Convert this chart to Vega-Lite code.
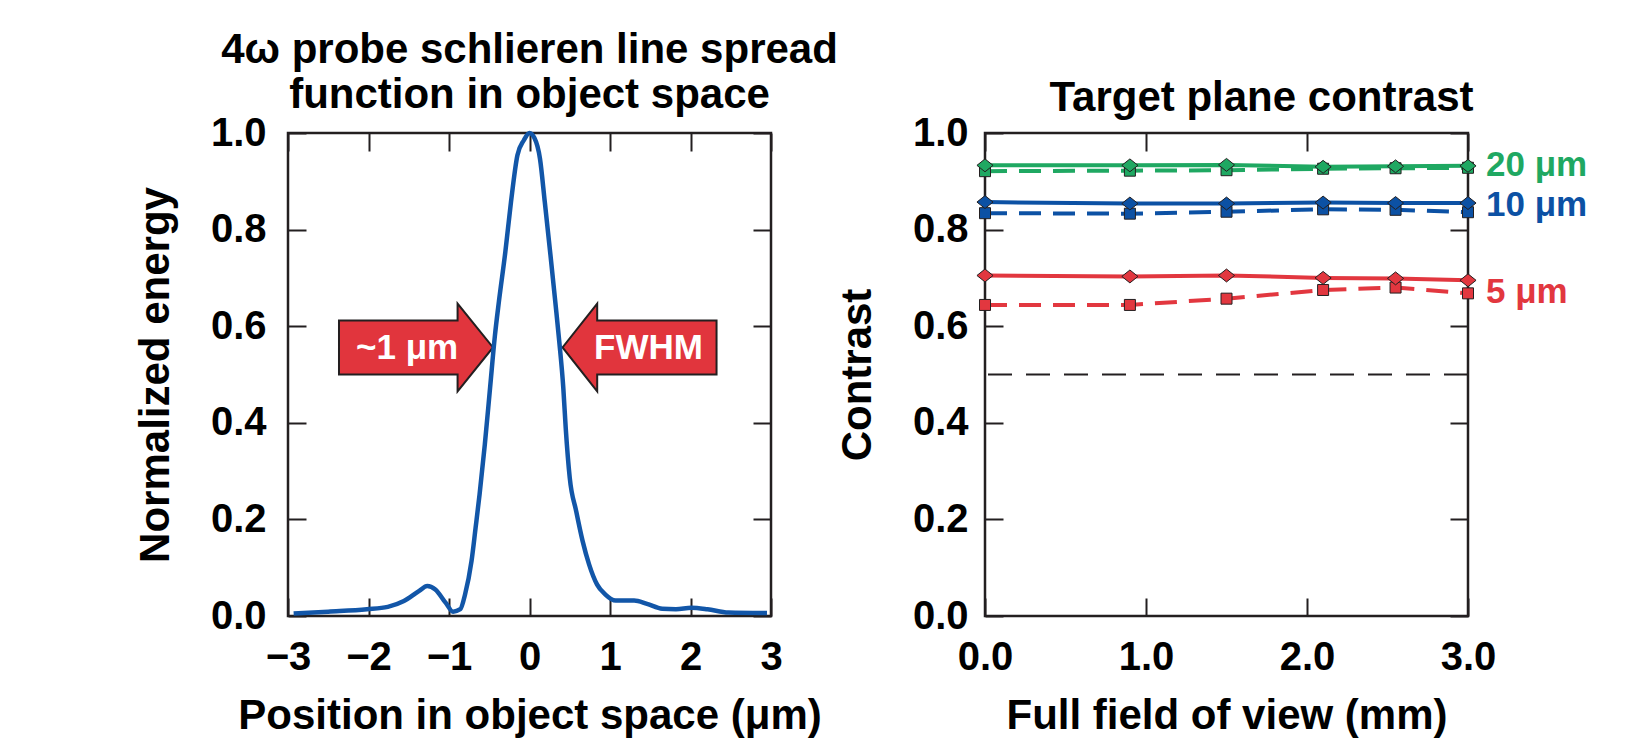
{
  "$schema": "https://vega.github.io/schema/vega-lite/v6.json",
  "background": "white",
  "padding": {"left": 133, "top": 27, "right": 0, "bottom": 0},
  "spacing": -5,
  "datasets": {
    "psf": [
      {"pos": -2.93, "energy": 0.005}, {"pos": -2.5, "energy": 0.009}, {"pos": -2.02, "energy": 0.014},
      {"pos": -1.76, "energy": 0.019}, {"pos": -1.56, "energy": 0.031}, {"pos": -1.37, "energy": 0.052},
      {"pos": -1.27, "energy": 0.062}, {"pos": -1.17, "energy": 0.055}, {"pos": -1.04, "energy": 0.027},
      {"pos": -0.95, "energy": 0.009}, {"pos": -0.86, "energy": 0.014}, {"pos": -0.8, "energy": 0.045},
      {"pos": -0.72, "energy": 0.114}, {"pos": -0.67, "energy": 0.182}, {"pos": -0.62, "energy": 0.252},
      {"pos": -0.555, "energy": 0.355}, {"pos": -0.49, "energy": 0.472}, {"pos": -0.43, "energy": 0.58},
      {"pos": -0.38, "energy": 0.651}, {"pos": -0.3, "energy": 0.754}, {"pos": -0.23, "energy": 0.857},
      {"pos": -0.15, "energy": 0.954}, {"pos": -0.07, "energy": 0.985}, {"pos": 0.0, "energy": 1.0},
      {"pos": 0.06, "energy": 0.99}, {"pos": 0.13, "energy": 0.947}, {"pos": 0.19, "energy": 0.857},
      {"pos": 0.26, "energy": 0.748}, {"pos": 0.32, "energy": 0.651}, {"pos": 0.37, "energy": 0.568},
      {"pos": 0.42, "energy": 0.472}, {"pos": 0.45, "energy": 0.389}, {"pos": 0.5, "energy": 0.286},
      {"pos": 0.58, "energy": 0.217}, {"pos": 0.66, "energy": 0.155}, {"pos": 0.74, "energy": 0.107},
      {"pos": 0.84, "energy": 0.065}, {"pos": 0.94, "energy": 0.045}, {"pos": 1.07, "energy": 0.032},
      {"pos": 1.3, "energy": 0.032}, {"pos": 1.46, "energy": 0.025}, {"pos": 1.65, "energy": 0.015},
      {"pos": 1.82, "energy": 0.014}, {"pos": 2.01, "energy": 0.017}, {"pos": 2.21, "energy": 0.014},
      {"pos": 2.47, "energy": 0.007}, {"pos": 2.95, "energy": 0.006}
    ],
    "arrows": [
      {"pos": -1.41, "level": 0.556, "dir": "right"},
      {"pos": 1.367, "level": 0.556, "dir": "left"}
    ],
    "arrowText": [
      {"pos": -1.52, "level": 0.555, "label": "~1 μm"},
      {"pos": 1.478, "level": 0.555, "label": "FWHM"}
    ],
    "contrast": [
      {"fov": 0.0, "contrast": 0.933, "size": "20 μm", "style": "solid"},
      {"fov": 0.9, "contrast": 0.933, "size": "20 μm", "style": "solid"},
      {"fov": 1.5, "contrast": 0.934, "size": "20 μm", "style": "solid"},
      {"fov": 2.1, "contrast": 0.93, "size": "20 μm", "style": "solid"},
      {"fov": 2.55, "contrast": 0.931, "size": "20 μm", "style": "solid"},
      {"fov": 3.0, "contrast": 0.932, "size": "20 μm", "style": "solid"},
      {"fov": 0.0, "contrast": 0.921, "size": "20 μm", "style": "dashed"},
      {"fov": 0.9, "contrast": 0.922, "size": "20 μm", "style": "dashed"},
      {"fov": 1.5, "contrast": 0.923, "size": "20 μm", "style": "dashed"},
      {"fov": 2.1, "contrast": 0.926, "size": "20 μm", "style": "dashed"},
      {"fov": 2.55, "contrast": 0.927, "size": "20 μm", "style": "dashed"},
      {"fov": 3.0, "contrast": 0.928, "size": "20 μm", "style": "dashed"},
      {"fov": 0.0, "contrast": 0.857, "size": "10 μm", "style": "solid"},
      {"fov": 0.9, "contrast": 0.854, "size": "10 μm", "style": "solid"},
      {"fov": 1.5, "contrast": 0.854, "size": "10 μm", "style": "solid"},
      {"fov": 2.1, "contrast": 0.856, "size": "10 μm", "style": "solid"},
      {"fov": 2.55, "contrast": 0.855, "size": "10 μm", "style": "solid"},
      {"fov": 3.0, "contrast": 0.855, "size": "10 μm", "style": "solid"},
      {"fov": 0.0, "contrast": 0.834, "size": "10 μm", "style": "dashed"},
      {"fov": 0.9, "contrast": 0.833, "size": "10 μm", "style": "dashed"},
      {"fov": 1.5, "contrast": 0.837, "size": "10 μm", "style": "dashed"},
      {"fov": 2.1, "contrast": 0.842, "size": "10 μm", "style": "dashed"},
      {"fov": 2.55, "contrast": 0.841, "size": "10 μm", "style": "dashed"},
      {"fov": 3.0, "contrast": 0.836, "size": "10 μm", "style": "dashed"},
      {"fov": 0.0, "contrast": 0.705, "size": "5 μm", "style": "solid"},
      {"fov": 0.9, "contrast": 0.703, "size": "5 μm", "style": "solid"},
      {"fov": 1.5, "contrast": 0.705, "size": "5 μm", "style": "solid"},
      {"fov": 2.1, "contrast": 0.7, "size": "5 μm", "style": "solid"},
      {"fov": 2.55, "contrast": 0.699, "size": "5 μm", "style": "solid"},
      {"fov": 3.0, "contrast": 0.695, "size": "5 μm", "style": "solid"},
      {"fov": 0.0, "contrast": 0.644, "size": "5 μm", "style": "dashed"},
      {"fov": 0.9, "contrast": 0.644, "size": "5 μm", "style": "dashed"},
      {"fov": 1.5, "contrast": 0.657, "size": "5 μm", "style": "dashed"},
      {"fov": 2.1, "contrast": 0.675, "size": "5 μm", "style": "dashed"},
      {"fov": 2.55, "contrast": 0.68, "size": "5 μm", "style": "dashed"},
      {"fov": 3.0, "contrast": 0.668, "size": "5 μm", "style": "dashed"}
    ],
    "threshold": [{"contrast": 0.5}],
    "sizeLabels": [
      {"fov": 3.0, "contrast": 0.934, "size": "20 μm"},
      {"fov": 3.0, "contrast": 0.851, "size": "10 μm"},
      {"fov": 3.0, "contrast": 0.671, "size": "5 μm"}
    ]
  },
  "hconcat": [
    {
      "width": 483,
      "height": 483,
      "title": {"text": ["4ω probe schlieren line spread", "function in object space"], "offset": -4},
      "layer": [
        {
          "data": {"name": "arrows"},
          "mark": {"type": "point", "filled": true, "color": "#e1353d", "stroke": "#231f20", "strokeWidth": 2, "opacity": 1, "size": 23716},
          "encoding": {
            "x": {"field": "pos", "type": "quantitative", "scale": {"domain": [-3, 3], "nice": false, "zero": false},
                  "axis": {"orient": "bottom", "values": [-3, -2, -1, 0, 1, 2, 3], "format": "d", "labelPadding": 39, "title": "Position in object space (μm)", "titlePadding": 18}},
            "y": {"field": "level", "type": "quantitative", "scale": {"domain": [0, 1], "nice": false, "zero": false},
                  "axis": {"orient": "left", "values": [0, 0.2, 0.4, 0.6, 0.8, 1.0], "format": ".1f", "labelPadding": 40, "title": "Normalized energy", "titlePadding": 33}},
            "shape": {"field": "dir", "type": "nominal", "legend": null,
                      "scale": {"domain": ["right", "left"], "range": ["M-1,-0.35L0.54,-0.35L0.54,-0.57L1,0L0.54,0.57L0.54,0.35L-1,0.35Z", "M1,-0.35L-0.55,-0.35L-0.55,-0.57L-1,0L-0.55,0.57L-0.55,0.35L1,0.35Z"]}}
          }
        },
        {
          "data": {"name": "arrowText"},
          "mark": {"type": "text", "color": "white", "fontSize": 35, "fontWeight": "bold", "align": "center", "baseline": "middle"},
          "encoding": {
            "x": {"field": "pos", "type": "quantitative", "axis": null},
            "y": {"field": "level", "type": "quantitative", "axis": null},
            "text": {"field": "label"}
          }
        },
        {
          "data": {"name": "psf"},
          "mark": {"type": "line", "color": "#1256a8", "strokeWidth": 4.5, "interpolate": "monotone"},
          "encoding": {
            "x": {"field": "pos", "type": "quantitative", "axis": {"orient": "top", "values": [-3, -2, -1, 0, 1, 2, 3], "labels": false, "title": null}},
            "y": {"field": "energy", "type": "quantitative", "axis": {"orient": "right", "values": [0, 0.2, 0.4, 0.6, 0.8, 1.0], "labels": false, "title": null}}
          }
        }
      ],
      "resolve": {"axis": {"x": "independent", "y": "independent"}}
    },
    {
      "width": 483,
      "height": 483,
      "title": {"text": "Target plane contrast", "offset": -7, "dx": 35},
      "layer": [
        {
          "data": {"name": "threshold"},
          "mark": {"type": "rule", "color": "#231f20", "strokeWidth": 2, "strokeDash": [24, 14]},
          "encoding": {
            "y": {"field": "contrast", "type": "quantitative", "scale": {"domain": [0, 1], "nice": false, "zero": false}, "axis": null}
          }
        },
        {
          "data": {"name": "contrast"},
          "transform": [{"filter": "datum.style === 'dashed'"}],
          "mark": {"type": "line", "strokeWidth": 4, "strokeDash": [22, 12]},
          "encoding": {
            "x": {"field": "fov", "type": "quantitative", "scale": {"domain": [0, 3], "nice": false, "zero": false},
                  "axis": {"orient": "bottom", "values": [0, 1, 2, 3], "format": ".1f", "labelPadding": 39, "title": "Full field of view (mm)", "titlePadding": 18}},
            "y": {"field": "contrast", "type": "quantitative",
                  "axis": {"orient": "left", "values": [0, 0.2, 0.4, 0.6, 0.8, 1.0], "format": ".1f", "labelPadding": 35, "title": "Contrast", "titlePadding": 33}},
            "color": {"field": "size", "type": "nominal", "legend": null,
                      "scale": {"domain": ["20 μm", "10 μm", "5 μm"], "range": ["#1fa862", "#0c51a4", "#e2373f"]}}
          }
        },
        {
          "data": {"name": "contrast"},
          "transform": [{"filter": "datum.style === 'dashed'"}],
          "mark": {"type": "point", "shape": "square", "filled": true, "size": 121, "stroke": "#231f20", "strokeWidth": 1, "opacity": 1},
          "encoding": {
            "x": {"field": "fov", "type": "quantitative", "axis": null},
            "y": {"field": "contrast", "type": "quantitative", "axis": null},
            "color": {"field": "size", "type": "nominal", "legend": null}
          }
        },
        {
          "data": {"name": "contrast"},
          "transform": [{"filter": "datum.style === 'solid'"}],
          "mark": {"type": "line", "strokeWidth": 4},
          "encoding": {
            "x": {"field": "fov", "type": "quantitative", "axis": {"orient": "top", "values": [0, 1, 2, 3], "labels": false, "title": null}},
            "y": {"field": "contrast", "type": "quantitative", "axis": {"orient": "right", "values": [0, 0.2, 0.4, 0.6, 0.8, 1.0], "labels": false, "title": null}},
            "color": {"field": "size", "type": "nominal", "legend": null}
          }
        },
        {
          "data": {"name": "contrast"},
          "transform": [{"filter": "datum.style === 'solid'"}],
          "mark": {"type": "point", "shape": "M-1,0L0,-0.8L1,0L0,0.8Z", "filled": true, "size": 260, "stroke": "#231f20", "strokeWidth": 1, "opacity": 1},
          "encoding": {
            "x": {"field": "fov", "type": "quantitative", "axis": null},
            "y": {"field": "contrast", "type": "quantitative", "axis": null},
            "color": {"field": "size", "type": "nominal", "legend": null}
          }
        },
        {
          "data": {"name": "sizeLabels"},
          "mark": {"type": "text", "align": "left", "baseline": "middle", "dx": 18, "fontSize": 35, "fontWeight": "bold"},
          "encoding": {
            "x": {"field": "fov", "type": "quantitative", "axis": null},
            "y": {"field": "contrast", "type": "quantitative", "axis": null},
            "text": {"field": "size"},
            "color": {"field": "size", "type": "nominal", "legend": null}
          }
        }
      ],
      "resolve": {"axis": {"x": "independent", "y": "independent"}}
    }
  ],
  "config": {
    "font": "Liberation Sans",
    "view": {"stroke": "#231f20", "strokeWidth": 2.5},
    "axis": {
      "domain": false, "grid": false, "ticks": true, "tickSize": -18, "tickWidth": 2, "tickColor": "#231f20",
      "labelFont": "Liberation Sans", "labelFontSize": 40, "labelFontWeight": "bold", "labelColor": "black",
      "labelFlush": false, "labelOverlap": false,
      "titleFont": "Liberation Sans", "titleFontSize": 42, "titleFontWeight": "bold", "titleColor": "black"
    },
    "title": {"font": "Liberation Sans", "fontSize": 42, "fontWeight": "bold", "color": "black", "anchor": "middle", "baseline": "bottom", "lineHeight": 45}
  }
}
